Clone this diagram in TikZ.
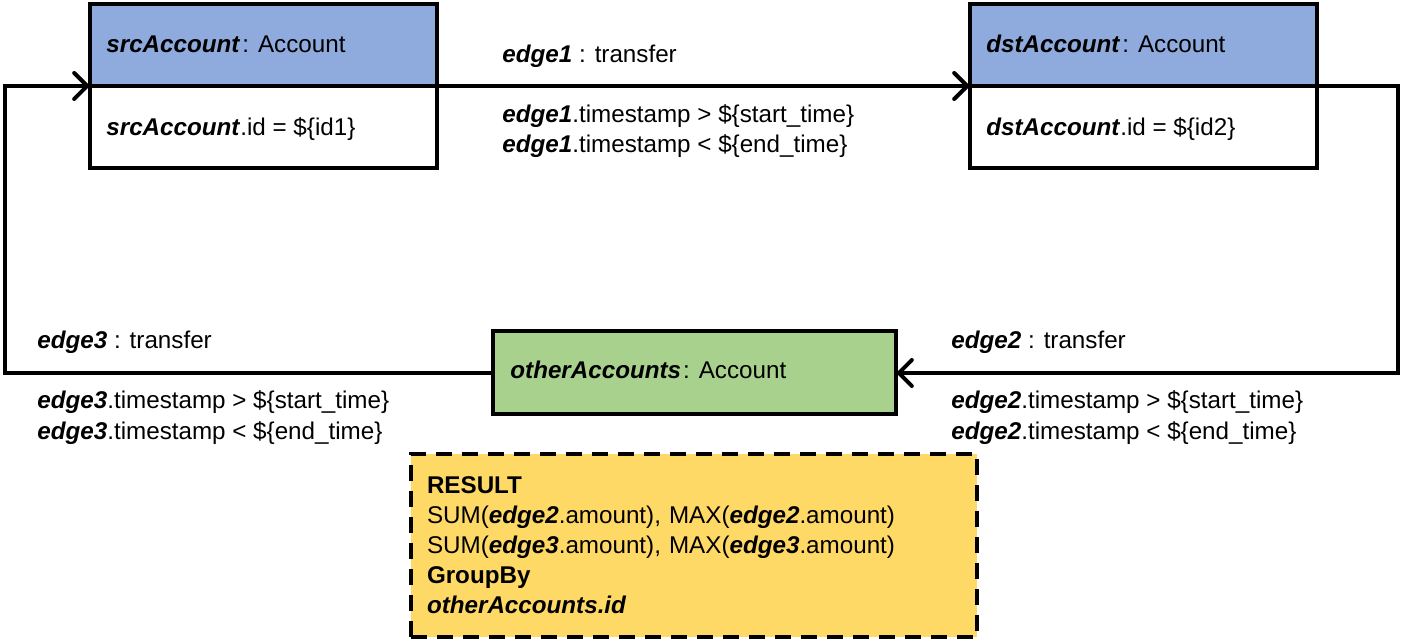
\documentclass[tikz,border=0pt]{standalone}
\usepackage{fontspec}
\setmainfont{Liberation Sans}
\usepackage{xcolor}
\usetikzlibrary{arrows.meta,positioning}
\definecolor{accblue}{RGB}{143,170,220}
\definecolor{accgreen}{RGB}{169,209,142}
\definecolor{resyellow}{RGB}{255,217,102}
\newcommand{\bi}[1]{\textbf{\textit{#1}}}

\begin{document}
\begin{tikzpicture}[x=0.5pt,y=-0.5pt,
      every node/.style={font=\fontsize{12.1}{15}\selectfont},
      head/.style={draw=black,line width=2pt,anchor=north west,outer sep=0pt,
                   minimum width=173.5pt,minimum height=41pt,inner sep=0pt},
      body/.style={draw=black,line width=2pt,anchor=north west,fill=white,outer sep=0pt,
                   minimum width=173.5pt,minimum height=41pt,inner sep=0pt},
      lbl/.style={anchor=base west,inner sep=0pt,align=left},
      ar/.style={-{Straight Barb[length=6.5pt,width=13pt,line width=2pt,line cap=round]},line width=2pt,black}]
    \useasboundingbox (0,0) rectangle (1408,641);
    % account boxes
    \node[body] (srcbody) at (90,86) {};
    \node[head,fill=accblue] (srchead) at (90,4) {};
    \node[body] (dstbody) at (970,86) {};
    \node[head,fill=accblue] (dsthead) at (970,4) {};
    \node[draw=black,line width=2pt,fill=accgreen,minimum width=201.5pt,outer sep=0pt,
          minimum height=41.5pt,inner sep=0pt] (other) at (694.5,373) {};
    \node[lbl] (srcname) at (106,53) {\bi{srcAccount}\kern1pt: Account};
    \node[lbl] (srcid) at (106,136) {\bi{srcAccount}.id = \$\{id1\}};
    \node[lbl] (dstname) at (986,53) {\bi{dstAccount}\kern1pt: Account};
    \node[lbl] (dstid) at (986,136) {\bi{dstAccount}.id = \$\{id2\}};
    \node[lbl] (othername) at (510,379) {\bi{otherAccounts}\kern1pt: Account};
    % edges
    \coordinate (rturn) at (1398,86);
    \coordinate (lturn) at (5,86);
    \draw[ar] (srchead.south east) -- (dsthead.south west);
    \draw[ar] (dsthead.south east) -- (rturn) |- (other.east);
    \draw[ar] (other.west) -| (lturn) -- (srchead.south west);
    \node[lbl] (e1) at (502,63) {\bi{edge1} : transfer};
    \node[lbl] (e1t) at (502,153) {\bi{edge1}.timestamp > \$\{start\_time\}\\\bi{edge1}.timestamp < \$\{end\_time\}};
    \node[lbl] (e2) at (951,349) {\bi{edge2} : transfer};
    \node[lbl] (e2t) at (951,439) {\bi{edge2}.timestamp > \$\{start\_time\}\\\bi{edge2}.timestamp < \$\{end\_time\}};
    \node[lbl] (e3) at (37,349) {\bi{edge3} : transfer};
    \node[lbl] (e3t) at (37,439) {\bi{edge3}.timestamp > \$\{start\_time\}\\\bi{edge3}.timestamp < \$\{end\_time\}};
    % result
    \node[draw=black,line width=2pt,dash pattern=on 8pt off 5pt,fill=resyellow,
          minimum width=283pt,minimum height=91.5pt,text width=267pt,align=left,
          inner sep=0pt] (result) at (694,545.5)
      {\textbf{RESULT}\\
       SUM(\bi{edge2}.amount), MAX(\bi{edge2}.amount)\\
       SUM(\bi{edge3}.amount), MAX(\bi{edge3}.amount)\\
       \textbf{GroupBy}\\
       \bi{otherAccounts.id}};
  \end{tikzpicture}
\end{document}
